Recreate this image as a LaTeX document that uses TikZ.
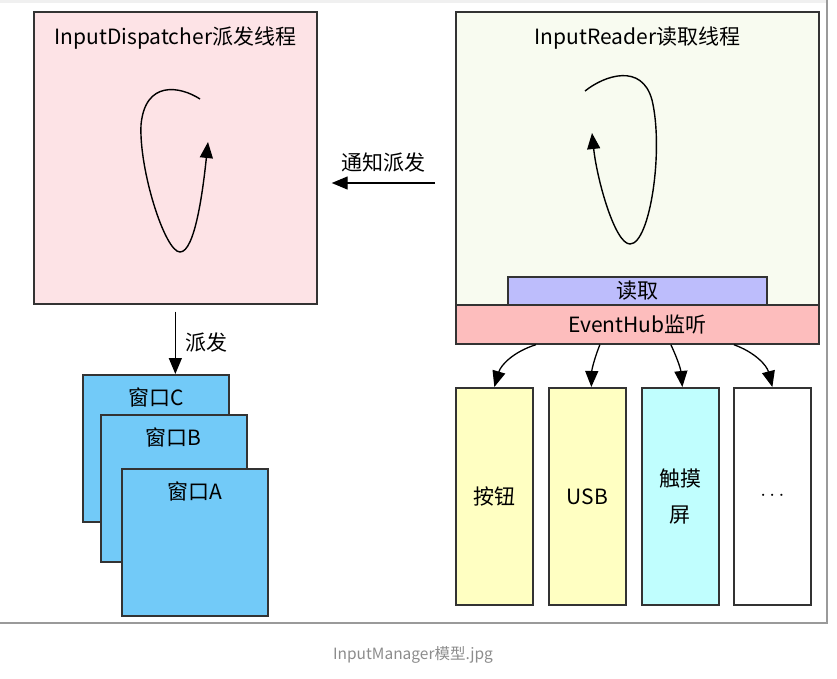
\documentclass[tikz,border=0pt]{standalone}
\usepackage{fontspec}
\setmainfont{Noto Sans CJK SC}
\usepackage{xcolor}
\usetikzlibrary{arrows.meta, positioning}

\definecolor{dispfill}{HTML}{FDE3E6}
\definecolor{readfill}{HTML}{F8FBF0}
\definecolor{barfill}{HTML}{BDBDFC}
\definecolor{hubfill}{HTML}{FDBDBD}
\definecolor{winfill}{HTML}{72CAF8}
\definecolor{yelfill}{HTML}{FFFFC2}
\definecolor{cyanfill}{HTML}{C0FEFE}
\definecolor{edge}{HTML}{333333}
\definecolor{framegray}{HTML}{9A9A9A}

\begin{document}
\begin{tikzpicture}[
        x=1pt, y=-1pt,
        >={Triangle[length=16pt,width=13pt]},
        font=\fontsize{21}{25}\selectfont,
        box/.style={draw=edge, line width=1.7pt, inner sep=0pt, anchor=north west},
        thread/.style={box, label={[anchor=north, inner sep=0pt, yshift=-16pt]north:#1}},
        win/.style={box, fill=winfill, minimum width=146pt, minimum height=147pt,
            label={[anchor=north, inner sep=0pt, yshift=-14pt]north:#1}},
        device/.style={box, minimum width=77pt, minimum height=217pt, font=\fontsize{21}{36}\selectfont, align=center},
        flow/.style={->, line width=1.3pt, black},
        loop/.style={->, line width=1.4pt, black}
    ]
        % page frame
        \useasboundingbox (0,0) rectangle (837,678);
        \fill[black!6] (0,0) rectangle (826,3);
        \draw[framegray, line width=2pt] (826.5,0) -- (826.5,623) -- (0,623);

        % dispatcher thread
        \node[thread=InputDispatcher派发线程, fill=dispfill, minimum width=283pt, minimum height=292pt] (disp) at (33,11) {};
        \draw[loop] (200,99) .. controls (180,86) and (145,80) .. (141,125)
            .. controls (139,170) and (165,252) .. (180,252)
            .. controls (195,252) and (203,190) .. (208,142);

        % reader thread
        \node[thread=InputReader读取线程, fill=readfill, minimum width=363pt, minimum height=293pt] (reader) at (455,11) {};
        \draw[loop] (585,91) .. controls (605,75) and (642,63) .. (652,100)
            .. controls (664,150) and (650,244) .. (630,244)
            .. controls (615,244) and (597,180) .. (592,133);
        \node[box, fill=barfill, minimum width=259pt, minimum height=28pt] (read) at (507,276) {读取};
        \node[box, fill=hubfill, minimum width=363pt, minimum height=39pt] (hub) at (455,304) {EventHub监听};

        % windows
        \node[win=窗口C] (winC) at (82,374) {};
        \node[win=窗口B] (winB) at (100,414) {};
        \node[win=窗口A] (winA) at (121,468) {};

        % input devices
        \node[device, fill=yelfill] (btn) at (455,387) {按钮};
        \node[device, fill=yelfill] (usb) at (548,387) {USB};
        \node[device, fill=cyanfill] (touch) at (641,387) {触摸\\屏};
        \node[device, fill=white] (more) at (733,387) {\raisebox{-2pt}{$\cdots$}};

        % connectors
        \coordinate (notify) at (435,183);
        \draw[flow] (notify) -- node[above=7pt] {通知派发} ([xshift=14pt]disp.east |- notify);
        \draw[flow] ([yshift=-7pt]disp.south) -- node[right=6pt] {派发} (winC.north -| disp.south);
        \draw[flow] ([xshift=-101.5pt]hub.south) to[bend right=28] (btn.north);
        \draw[flow] ([xshift=-37.5pt]hub.south) to[bend right=10] ([xshift=4pt]usb.north);
        \draw[flow] ([xshift=33.5pt]hub.south) to[bend left=10] ([xshift=2pt]touch.north);
        \draw[flow] ([xshift=96.5pt]hub.south) to[bend left=28] (more.north);

        % caption
        \node[text=black!45, font=\fontsize{15.5}{18}\selectfont] (caption) at (413,655) {InputManager模型.jpg};
\end{tikzpicture}
\end{document}
